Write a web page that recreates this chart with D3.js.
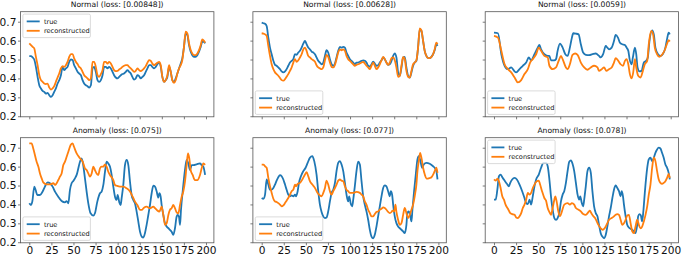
<!DOCTYPE html>
<html><head><meta charset="utf-8">
<script src="https://cdn.jsdelivr.net/npm/d3@7/dist/d3.min.js"></script>
<style>
body{margin:0;background:#fff}
svg{display:block}
text{font-family:"DejaVu Sans",sans-serif}
</style></head>
<body><svg id="chart" width="683" height="257"></svg>
<script>
// ---------- data ----------
const titles = ["Normal (loss: [0.00848])","Normal (loss: [0.00628])","Normal (loss: [0.0059])",
                "Anomaly (loss: [0.075])","Anomaly (loss: [0.077])","Anomaly (loss: [0.078])"];
const seriesNames = ["true","reconstructed"];
const xTicks = [0,25,50,75,100,125,150,175,200];
const yTicks = [0.2,0.3,0.4,0.5,0.6,0.7];

const gridX = [0,1.9,3.8,5.6,7.5,9.4,11.3,13.2,15.1,16.9,18.8,20.7,22.6,24.5,26.4,28.2,30.1,32,33.9,35.8,
37.7,39.5,41.4,43.3,45.2,47.1,49,50.8,52.7,54.6,56.5,58.4,60.3,62.1,64,65.9,67.8,69.7,71.6,73.4,
75.3,77.2,79.1,81,82.9,84.7,86.6,88.5,90.4,92.3,94.2,96,97.9,99.8,101.7,103.6,105.4,107.3,109.2,111.1,
113,114.9,116.7,118.6,120.5,122.4,124.3,126.2,128,129.9,131.8,133.7,135.6,137.5,139.3,141.2,143.1,145,146.9,148.8,
150.6,152.5,154.4,156.3,158.2,160.1,161.9,163.8,165.7,167.6,169.5,171.4,173.2,175.1,177,178.9,180.8,182.7,184.5,186.4,
188.3,190.2,192.1,194,195.8,197.7,199];

const n1True = [0.518,0.518,0.511,0.500,0.461,0.408,0.364,0.347,0.334,0.329,
0.320,0.324,0.311,0.302,0.311,0.329,0.347,0.373,0.391,0.417,
0.461,0.444,0.453,0.461,0.488,0.500,0.497,0.470,0.453,0.435,
0.426,0.417,0.391,0.373,0.364,0.359,0.352,0.364,0.453,0.461,
0.435,0.391,0.382,0.391,0.417,0.461,0.461,0.453,0.461,0.453,
0.435,0.417,0.405,0.400,0.408,0.417,0.423,0.426,0.435,0.444,
0.435,0.426,0.408,0.394,0.400,0.417,0.412,0.400,0.408,0.417,
0.435,0.453,0.470,0.470,0.461,0.453,0.461,0.476,0.483,0.461,
0.408,0.382,0.391,0.408,0.461,0.435,0.391,0.382,0.400,0.426,
0.453,0.479,0.506,0.567,0.638,0.629,0.576,0.541,0.523,0.514,
0.514,0.523,0.541,0.567,0.594,0.594,0.585];
const n1Recon = [0.585,0.576,0.567,0.559,0.514,0.470,0.417,0.391,0.382,0.373,
0.370,0.373,0.352,0.341,0.347,0.359,0.382,0.405,0.426,0.453,
0.465,0.461,0.470,0.488,0.514,0.529,0.529,0.506,0.488,0.476,
0.461,0.453,0.435,0.417,0.408,0.400,0.391,0.400,0.488,0.488,
0.461,0.417,0.408,0.423,0.444,0.488,0.488,0.479,0.488,0.479,
0.461,0.444,0.439,0.440,0.447,0.453,0.461,0.467,0.470,0.470,
0.461,0.453,0.444,0.435,0.440,0.453,0.444,0.439,0.444,0.453,
0.465,0.483,0.497,0.493,0.479,0.470,0.476,0.483,0.488,0.470,
0.408,0.382,0.391,0.417,0.470,0.435,0.391,0.377,0.391,0.426,
0.453,0.470,0.497,0.567,0.647,0.638,0.585,0.550,0.532,0.523,
0.523,0.532,0.550,0.576,0.606,0.599,0.589];

const n2True = [0.695,0.692,0.689,0.677,0.616,0.563,0.528,0.493,0.472,0.467,
0.458,0.449,0.437,0.432,0.437,0.449,0.467,0.484,0.493,0.502,
0.528,0.525,0.537,0.546,0.563,0.584,0.598,0.581,0.563,0.554,
0.542,0.537,0.528,0.511,0.493,0.484,0.475,0.484,0.519,0.549,
0.537,0.502,0.475,0.467,0.479,0.511,0.546,0.567,0.563,0.567,
0.563,0.537,0.519,0.502,0.493,0.484,0.475,0.484,0.484,0.488,
0.493,0.496,0.493,0.484,0.467,0.463,0.475,0.489,0.479,0.467,
0.470,0.484,0.496,0.511,0.502,0.484,0.472,0.475,0.493,0.519,
0.532,0.511,0.432,0.414,0.458,0.511,0.514,0.458,0.414,0.405,
0.432,0.467,0.484,0.493,0.563,0.660,0.651,0.598,0.546,0.519,
0.507,0.507,0.514,0.528,0.549,0.581,0.572];
const n2Recon = [0.639,0.637,0.633,0.625,0.572,0.519,0.475,0.449,0.432,0.423,
0.414,0.402,0.391,0.388,0.396,0.409,0.423,0.440,0.458,0.484,
0.502,0.488,0.496,0.511,0.528,0.554,0.563,0.546,0.519,0.511,
0.502,0.496,0.488,0.470,0.458,0.453,0.449,0.458,0.496,0.525,
0.514,0.484,0.461,0.458,0.472,0.502,0.537,0.554,0.549,0.554,
0.546,0.519,0.502,0.493,0.484,0.475,0.467,0.472,0.475,0.479,
0.484,0.488,0.479,0.467,0.458,0.449,0.467,0.484,0.467,0.449,
0.458,0.475,0.496,0.514,0.502,0.484,0.472,0.484,0.507,0.511,
0.496,0.458,0.409,0.414,0.467,0.514,0.502,0.440,0.409,0.405,
0.440,0.475,0.484,0.496,0.563,0.665,0.654,0.598,0.546,0.519,
0.507,0.507,0.514,0.528,0.554,0.589,0.581];

const n3TrueX = [0,4.5,8.3,12,15.8,19.5,23.3,25.1,28.9,32.6,36.4,39.4,42,45.8,49.5,51.4,53.3,57,60.8,62.7,
64.5,68.3,70.2,72,74.7,77.7,80.7,83.3,85.9,88.2,89.7,92.7,95.7,98.3,100.9,103.9,107.7,111.4,115.2,118.9,
120.8,123.5,126.5,128.3,130.2,133.2,135.8,137.7,140.3,142.6,145.2,148.2,150.1,152,153.5,155.7,157.2,159.5,161,162.5,
164.7,167,169.6,172.2,174.1,176,179,180.9,182.7,185.7,188.4,191,194,196.2,197.7,199];
const n3TrueY = [0.642,0.639,0.528,0.467,0.449,0.458,0.437,0.432,0.449,0.467,0.484,0.511,0.496,0.528,0.563,0.577,0.554,0.528,0.519,0.519,
0.496,0.496,0.502,0.546,0.584,0.563,0.528,0.519,0.563,0.616,0.639,0.637,0.633,0.581,0.537,0.525,0.523,0.528,0.532,0.519,
0.511,0.528,0.572,0.563,0.554,0.563,0.598,0.630,0.616,0.589,0.581,0.577,0.563,0.546,0.502,0.475,0.511,0.563,0.528,0.458,
0.437,0.440,0.484,0.493,0.511,0.598,0.654,0.633,0.563,0.528,0.519,0.528,0.563,0.616,0.642,0.633];
const n3ReconX = [0,4.5,8.3,12,15.8,19.5,23.3,27,30.8,34.5,38.3,40.9,43.9,47.7,50.7,53.3,57,60.8,62.7,66.4,
70.2,73.2,75.8,77.7,81.4,83.3,85.9,88.9,91.9,94.6,98.3,102.1,105.8,109.6,113.3,117.1,118.9,122,124.6,127.2,
130.2,133.2,135.8,137.7,140.7,143.3,146,148.2,150.1,152,153.8,155.7,157.6,159.5,161,163.2,165.9,168.5,170.7,173.4,
175.2,177.9,180.1,182,184.6,187.2,190.2,193.2,195.9,197.7,199];
const n3ReconY = [0.625,0.616,0.546,0.475,0.449,0.432,0.405,0.379,0.391,0.423,0.449,0.484,0.502,0.528,0.563,0.546,0.519,0.511,0.467,0.449,
0.458,0.493,0.519,0.502,0.458,0.449,0.475,0.525,0.532,0.525,0.484,0.458,0.446,0.458,0.467,0.458,0.440,0.449,0.458,0.440,
0.449,0.458,0.484,0.507,0.493,0.475,0.467,0.493,0.502,0.475,0.423,0.400,0.432,0.502,0.458,0.414,0.405,0.440,0.475,0.493,
0.581,0.651,0.633,0.563,0.528,0.514,0.525,0.549,0.584,0.602,0.595];

const a1TrueX = [0,1.9,3.4,5.7,7.2,9.1,12.1,15.1,17.7,20.8,23.4,26.4,29.1,32.8,36.6,40.4,42.3,44.2,46,47.9,
49.8,51.7,53.6,57.4,59.2,60.4,63,64.9,66.8,69.4,72.5,74.3,77,80,81.9,83.8,85.7,87.5,89.4,91.3,
93.2,95.1,97,98.9,100,101.9,103.4,104.5,106.4,108.3,110.2,112.1,114,115.8,117.7,119.6,121.5,123.4,125.3,127.2,
129.1,130.9,132.8,134.7,136.6,138.5,140.4,142.3,144.2,146,147.2,148.7,149.8,151.7,153.6,155.5,157.4,159.2,161.1,163,
164.9,166.8,167.9,169.4,170.6,171.7,173.6,176.2,178.1,180,181.9,183.8,185.7,189.4,193.2,195.1,197,199];
const a1TrueY = [0.406,0.397,0.415,0.494,0.476,0.450,0.450,0.468,0.494,0.517,0.512,0.494,0.468,0.441,0.418,0.411,0.418,0.406,0.476,0.512,
0.524,0.538,0.556,0.626,0.644,0.626,0.538,0.468,0.406,0.353,0.341,0.353,0.415,0.459,0.468,0.503,0.573,0.626,0.617,0.600,
0.556,0.494,0.441,0.424,0.450,0.411,0.397,0.432,0.503,0.608,0.635,0.608,0.520,0.450,0.424,0.406,0.362,0.309,0.256,0.230,
0.225,0.248,0.292,0.344,0.397,0.459,0.499,0.494,0.468,0.436,0.459,0.441,0.397,0.344,0.300,0.283,0.274,0.265,0.256,0.239,
0.274,0.336,0.344,0.336,0.292,0.371,0.468,0.582,0.635,0.617,0.582,0.608,0.608,0.612,0.617,0.608,0.600,0.556];
const a1ReconX = [0,2.6,4.5,8.3,10.2,12.1,14,15.8,19.6,23.4,27.2,29.1,32.8,34.7,36.6,38.5,40.4,42.3,44.2,46.8,
49.1,50.6,53.6,57.4,60.4,63,64.9,66.8,68.7,70.6,72.5,74.3,76.2,78.1,80,81.9,83.8,85.7,87.5,89.4,
91.3,95.1,97,98.9,102.6,106.4,110.2,114,117,119.6,122.3,125.3,127.2,129.8,132.8,136.6,140.4,142.3,144.2,147.2,
149.8,151.7,153.6,155.5,157.4,159.2,161.1,163,164.9,166.8,168.7,170.6,172.5,174.3,176.2,178.1,179.6,181.1,182.6,184.9,
187.5,190.2,193.2,195.1,197,199];
const a1ReconY = [0.723,0.723,0.696,0.626,0.600,0.564,0.538,0.517,0.506,0.506,0.512,0.503,0.529,0.547,0.564,0.608,0.626,0.652,0.679,0.714,
0.723,0.705,0.670,0.644,0.626,0.591,0.582,0.564,0.547,0.564,0.600,0.582,0.564,0.556,0.591,0.600,0.600,0.612,0.600,0.573,
0.556,0.529,0.503,0.499,0.494,0.494,0.485,0.468,0.441,0.415,0.397,0.371,0.371,0.383,0.388,0.380,0.388,0.380,0.371,0.362,
0.388,0.344,0.292,0.300,0.344,0.371,0.380,0.397,0.380,0.358,0.353,0.397,0.441,0.468,0.520,0.608,0.670,0.644,0.582,0.556,
0.529,0.529,0.556,0.591,0.617,0.609];

const a2TrueX = [0,1.9,3.8,5.6,7.5,9.4,11.3,13.2,15.1,16.9,18.8,20.7,22.6,24.5,26.4,28.2,30.1,32,33.9,35.8,
37.7,38.8,40.7,42.2,44.4,47.1,49.7,52,54.6,57.3,59.5,62.1,64,65.9,67.8,69.7,71.6,73.4,75.3,77.2,
79.1,81,82.9,84.7,86.6,88.5,90.4,92.3,94.2,96,97.9,99,100.9,102.4,103.6,105.4,107.3,109.2,111.1,113,
114.9,116.7,118.6,120.5,122.4,124.3,126.2,128,129.9,131.8,133.7,135.6,137.5,139.3,141.2,143.1,145,146.1,147.6,148.8,
150.6,152.5,154.4,156.3,158.2,160.1,161.9,163.8,164.9,166.4,168,169.5,170.6,172.5,174.4,176.3,177.8,179.7,181.6,183.4,
186.4,190.2,194,195.8,197.7,199];
const a2TrueY = [0.434,0.430,0.452,0.532,0.505,0.478,0.478,0.487,0.505,0.526,0.544,0.555,0.549,0.532,0.505,0.478,0.452,0.443,0.448,0.443,
0.452,0.443,0.470,0.514,0.549,0.576,0.594,0.620,0.647,0.656,0.629,0.558,0.470,0.399,0.360,0.337,0.328,0.331,0.363,0.416,
0.461,0.478,0.514,0.576,0.620,0.629,0.611,0.576,0.514,0.452,0.416,0.443,0.402,0.390,0.425,0.496,0.576,0.626,0.611,0.523,
0.443,0.399,0.363,0.319,0.266,0.230,0.221,0.239,0.283,0.337,0.390,0.443,0.487,0.501,0.496,0.470,0.443,0.470,0.452,0.399,
0.337,0.301,0.283,0.274,0.266,0.257,0.248,0.292,0.354,0.363,0.345,0.310,0.372,0.470,0.558,0.638,0.656,0.629,0.594,0.611,
0.620,0.615,0.602,0.594,0.576,0.532];
const a2ReconX = [0,1.9,3.8,5.6,7.5,9.4,11.3,13.2,15.1,16.9,18.8,20.7,22.6,24.5,26.4,28.2,30.1,32,33.9,35.8,
37.7,38.8,40.7,43.3,46,49,50.8,52.7,54.6,57.3,60.3,63.3,65.9,67.8,69.7,71.6,73.4,75.3,77.2,79.1,
81,82.9,84.7,86.6,88.5,90.4,92.3,94.2,96,97.9,99.8,103.6,107.3,111.1,113,114.9,116.7,118.6,120.5,122.4,
124.3,126.2,128,129.9,131.8,133.7,135.6,137.5,139.3,141.2,143.1,145,146.9,148,149.9,151.4,152.5,154.4,156.3,158.2,
160.1,161.9,163.8,165.7,167.6,169.5,171.4,173.2,175.1,176.3,177.8,179.3,180.8,182.7,184.6,186.4,188.3,190.2,192.1,194,
195.8,197.7,199];
const a2ReconY = [0.611,0.611,0.602,0.594,0.540,0.496,0.461,0.430,0.416,0.413,0.407,0.399,0.390,0.395,0.407,0.420,0.434,0.452,0.470,0.478,
0.505,0.496,0.509,0.514,0.532,0.558,0.571,0.549,0.523,0.505,0.487,0.461,0.448,0.443,0.461,0.487,0.526,0.505,0.470,0.452,
0.470,0.487,0.505,0.526,0.532,0.526,0.523,0.496,0.478,0.470,0.461,0.461,0.466,0.461,0.452,0.443,0.416,0.399,0.372,0.354,
0.337,0.337,0.349,0.360,0.363,0.372,0.377,0.384,0.381,0.372,0.360,0.354,0.360,0.367,0.363,0.399,0.360,0.319,0.292,0.301,
0.345,0.381,0.354,0.328,0.345,0.372,0.399,0.443,0.505,0.576,0.629,0.673,0.647,0.594,0.558,0.537,0.537,0.540,0.544,0.558,
0.576,0.594,0.567];

const a3TrueX = [0,1.9,3.8,5.6,7.5,9.4,12,14.6,16.9,18.4,20.6,23.3,25.9,28.9,31.9,34.5,36.4,38.3,40.2,42,
43.9,45.8,47.7,50.7,53.3,55.9,58.9,60.8,62.7,64.5,66.4,68.3,70.2,72,73.9,75.8,77.7,79.5,81.4,83.3,
85.2,87.1,88.9,90.8,92.7,94.6,96.4,97.6,99.4,100.9,102.1,103.9,105.8,107.7,109.6,111.4,113.3,115.2,117.1,118.9,
120.8,122.7,124.6,126.5,128.3,130.2,132.1,134,135.8,137.7,139.6,141.5,143.3,144.5,146,147.1,149,150.8,152.7,154.6,
156.5,158.3,160.2,162.1,163.2,164.7,166.2,167.7,169.2,170.7,172.2,173.7,175.2,177.1,179,180.9,182.7,184.6,186.5,188.4,
190.2,192.1,194,195.9,197.7,199];
const a3TrueY = [0.425,0.425,0.478,0.549,0.558,0.544,0.526,0.509,0.496,0.514,0.532,0.540,0.532,0.505,0.470,0.434,0.407,0.402,0.425,0.399,
0.443,0.496,0.532,0.558,0.594,0.620,0.620,0.602,0.532,0.443,0.372,0.328,0.319,0.328,0.354,0.416,0.452,0.470,0.514,0.576,
0.626,0.633,0.615,0.576,0.514,0.452,0.425,0.443,0.407,0.390,0.425,0.496,0.576,0.594,0.567,0.470,0.390,0.354,0.337,0.292,
0.248,0.230,0.221,0.239,0.283,0.337,0.381,0.434,0.478,0.500,0.487,0.470,0.443,0.470,0.443,0.399,0.337,0.292,0.278,0.271,
0.266,0.257,0.248,0.292,0.337,0.349,0.342,0.310,0.372,0.461,0.540,0.602,0.638,0.647,0.629,0.647,0.673,0.691,0.700,0.696,
0.673,0.647,0.611,0.594,0.567,0.532];
const a3ReconX = [0,1.9,3.8,5.6,7.5,9.4,11.3,13.1,15.8,18.4,20.6,23.3,25.1,27,28.9,30.8,32.6,34.5,36.4,38.3,
40.2,42,43.9,45.8,48.4,50.7,52.2,54.4,57,58.9,60.8,62.7,64.5,66.4,68.3,69.4,70.9,72.8,74.7,76.9,
79.5,83.3,85.9,88.2,90.8,92.7,95.7,98.3,100.9,103.9,107,108.4,110.7,112.6,114.4,116.3,118.2,120.8,122.7,124.6,
126.5,128.3,130.2,133.2,135.8,137.7,139.6,141.5,143.3,145.2,147.1,149,150.8,152.7,154.6,156.5,158.3,160.2,162.1,164,
165.8,167.7,169.6,171.5,173.4,175.2,177.1,179,180.9,182.7,184.6,186.5,188.4,190.2,192.1,194,195.9,197.7,199];
const a3ReconY = [0.532,0.526,0.537,0.523,0.487,0.443,0.425,0.399,0.377,0.354,0.349,0.345,0.331,0.328,0.337,0.354,0.381,0.399,0.425,0.461,
0.452,0.461,0.487,0.505,0.523,0.526,0.505,0.470,0.434,0.420,0.381,0.360,0.345,0.381,0.425,0.443,0.416,0.363,0.337,0.363,
0.399,0.407,0.399,0.407,0.399,0.381,0.372,0.363,0.349,0.345,0.360,0.367,0.349,0.337,0.328,0.310,0.292,0.274,0.266,0.271,
0.283,0.301,0.319,0.328,0.337,0.345,0.349,0.345,0.319,0.292,0.301,0.319,0.342,0.345,0.301,0.257,0.248,0.283,0.319,0.292,
0.274,0.283,0.310,0.345,0.390,0.452,0.505,0.594,0.647,0.629,0.576,0.532,0.514,0.509,0.514,0.523,0.540,0.562,0.540];

const legendPos = ["upper","lower","lower","lower","lower","upper"];

// ---------- layout ----------
const colors = ["#1f77b4","#ff7f0e"];
const colLeft = [20.5, 252.9, 485.2], colW = 193.4;
const rowTop = [11.7, 137.7], rowH = 105.1;

const panels = [
  {tx:gridX, ty:n1True, rx:gridX, ry:n1Recon},
  {tx:gridX, ty:n2True, rx:gridX, ry:n2Recon},
  {tx:n3TrueX, ty:n3TrueY, rx:n3ReconX, ry:n3ReconY},
  {tx:a1TrueX, ty:a1TrueY, rx:a1ReconX, ry:a1ReconY},
  {tx:a2TrueX, ty:a2TrueY, rx:a2ReconX, ry:a2ReconY},
  {tx:a3TrueX, ty:a3TrueY, rx:a3ReconX, ry:a3ReconY}
];

const svg = d3.select("#chart");
svg.append("rect").attr("width",683).attr("height",257).attr("fill","#fff");

panels.forEach((p, i) => {
  const row = Math.floor(i/3), col = i%3;
  const L = colLeft[col], T = rowTop[row];
  const x = d3.scaleLinear().domain([-9.95, 208.95]).range([L, L+colW]);
  const y = d3.scaleLinear().domain([0.197, 0.753]).range([T+rowH, T]);
  const g = svg.append("g");

  const clipId = "clip"+i;
  g.append("clipPath").attr("id",clipId).append("rect")
    .attr("x",L).attr("y",T).attr("width",colW).attr("height",rowH);

  const line = d3.line().x(d=>x(d[0])).y(d=>y(d[1])).curve(d3.curveMonotoneX);
  const sets = [[p.tx,p.ty],[p.rx,p.ry]];
  sets.forEach((s, k) => {
    const n = Math.min(s[0].length, s[1].length);
    const pts = d3.range(n).map(j => [s[0][j], s[1][j]]);
    g.append("path").attr("d", line(pts)).attr("fill","none")
      .attr("stroke", colors[k]).attr("stroke-width",1.8)
      .attr("stroke-linejoin","round").attr("clip-path","url(#"+clipId+")");
  });

  // axes
  const xa = d3.axisBottom(x).tickValues(xTicks).tickSize(2.5).tickPadding(1.5)
    .tickFormat(row===1 ? d3.format("d") : ()=> "");
  const ya = d3.axisLeft(y).tickValues(yTicks).tickSize(2.5).tickPadding(1.6)
    .tickFormat(col===0 ? d3.format(".1f") : ()=> "");
  const gx = g.append("g").attr("transform",`translate(0,${T+rowH})`).call(xa);
  const gy = g.append("g").attr("transform",`translate(${L},0)`).call(ya);
  [gx,gy].forEach(a => {
    a.select(".domain").remove();
    a.selectAll(".tick line").attr("stroke","#444").attr("stroke-width",0.7);
    a.selectAll(".tick text").attr("fill","#111").style("font-size","10.6px")
      .style("font-family","DejaVu Sans, sans-serif");
  });

  g.append("rect").attr("x",L).attr("y",T).attr("width",colW).attr("height",rowH)
    .attr("fill","none").attr("stroke","#555").attr("stroke-width",0.8);

  // title
  g.append("text").attr("x", L+colW/2).attr("y", T-4.7).attr("text-anchor","middle")
    .style("font-size","7.6px").attr("fill","#111").text(titles[i]);

  // legend
  const lw = 67.5, lh = 23.5;
  const lx = L + 2.4;
  const ly = legendPos[i]==="upper" ? T + 2.4 : T + rowH - 2.4 - lh;
  const lg = g.append("g");
  lg.append("rect").attr("x",lx).attr("y",ly).attr("width",lw).attr("height",lh)
    .attr("rx",1.5).attr("fill","#fff").attr("fill-opacity",0.8)
    .attr("stroke","#cccccc").attr("stroke-width",0.7);
  seriesNames.forEach((nm, k) => {
    const cy = ly + 7.3 + k*9.4;
    lg.append("line").attr("x1",lx+3.8).attr("x2",lx+16.8).attr("y1",cy).attr("y2",cy)
      .attr("stroke",colors[k]).attr("stroke-width",1.8);
    lg.append("text").attr("x",lx+21).attr("y",cy).attr("dy","0.35em")
      .style("font-size","6.6px").attr("fill","#111").text(nm);
  });
});
</script>
</body></html>
